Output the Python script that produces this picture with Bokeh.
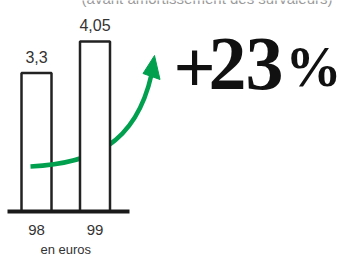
from bokeh.plotting import figure
from bokeh.models import Range1d
from bokeh.core.properties import value
from bokeh.embed import file_html
from bokeh.resources import INLINE

# ---- data ----
years = ["98", "99"]
values = [3.3, 4.05]
value_labels = ["3,3", "4,05"]
growth_parts = ["+", "2", "3", "%"]   # "+23 %"
unit_label = "en euros"
subtitle = "(avant amortissement des survaleurs)"

W, H = 339, 258
X0, DX = 36.0, 58.5     # pixel of first category centre, pixels per category
Y0, DY = 211.0, 42.0    # pixel of zero line, pixels per unit


def dx(px):
    return (px - X0) / DX + 1


def dy(py):
    return (Y0 - py) / DY


xs = [i + 1 for i in range(len(years))]

p = figure(width=W, height=H, output_backend="svg", toolbar_location=None,
           x_range=Range1d(dx(0), dx(W)), y_range=Range1d(dy(H), dy(0)),
           x_axis_location=None, y_axis_location=None, min_border=0,
           outline_line_color=None)
p.grid.visible = False

INK = "#222222"
GREEN = "#00a04f"
bw = 30 / DX

# first bar (under the arrow)
p.vbar(x=xs[:1], top=values[:1], bottom=0, width=bw, fill_color="white",
       line_color=INK, line_width=2.5)

# growth arrow
p.bezier(x0=dx(30), y0=dy(166), x1=dx(151), y1=dy(74),
         cx0=dx(90), cy0=dy(163), cx1=dx(135), cy1=dy(145),
         line_color=GREEN, line_width=4.5)
p.patch([dx(154), dx(142.5), dx(159.5)], [dy(55), dy(73), dy(79)],
        fill_color=GREEN, line_color=GREEN, line_width=1)

# second bar (covers the arrow)
p.vbar(x=xs[1:], top=values[1:], bottom=0, width=bw, fill_color="white",
       line_color=INK, line_width=2.5)

# baseline
p.segment(x0=[dx(7)], y0=[0], x1=[dx(129)], y1=[0], line_color="#1a1a1a",
          line_width=4)

# value labels
p.text(x=xs, y=values, text=value_labels, text_align="center",
       text_baseline="alphabetic", y_offset=-16,
       text_font=value("Liberation Sans"), text_font_size="16px",
       text_color="#333333")

# category labels
p.text(x=xs, y=[0, 0], text=years, text_align="center",
       text_baseline="alphabetic", y_offset=18,
       text_font=value("Liberation Sans"), text_font_size="15px",
       text_color="#333333")

p.text(x=[sum(xs) / len(xs)], y=[0], text=[unit_label], text_align="center",
       text_baseline="alphabetic", y_offset=38,
       text_font=value("Liberation Sans"), text_font_size="13px",
       text_color="#333333")

# subtitle (cut at top)
p.text(x=[dx(332)], y=[dy(-2)], text=[subtitle], text_align="right",
       text_baseline="alphabetic", text_font=value("Liberation Sans"),
       text_font_size="15px", text_color="#9a9a9a")

# big growth figure
gx = [dx(194), dx(227), dx(264), dx(313)]
gsize = ["74px", "76px", "76px", "56px"]
gy = [dy(67), dy(63), dy(63), dy(66)]
p.text(x=gx, y=gy, text=growth_parts, text_align="center",
       text_baseline="alphabetic", text_font=value("Liberation Serif"),
       text_font_style="bold", text_font_size=gsize, text_color="#111111")

open("out.html", "w").write(file_html(p, INLINE))
